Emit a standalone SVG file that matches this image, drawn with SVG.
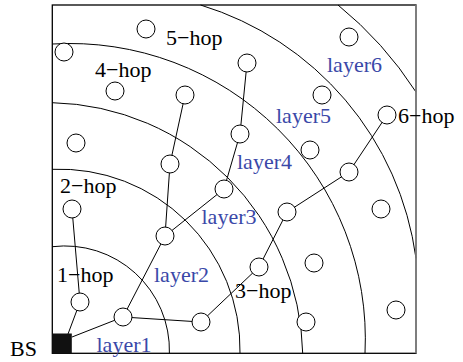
<svg xmlns="http://www.w3.org/2000/svg" width="463" height="362" viewBox="0 0 463 362">
<style>
.arc{fill:none;stroke:#000;stroke-width:1}
.ln{stroke:#000;stroke-width:1}
.nd{fill:#fff;stroke:#000;stroke-width:1}
.t{font-family:"Liberation Serif","Times New Roman",serif;font-size:22px;fill:#000}
.b{fill:#3a48a8}
</style>
<rect width="463" height="362" fill="#fff"/>
<g id="arcs">
<path class="arc" d="M52.3 246.7 A104.5 104.5 0 0 1 169.4 353.3"/>
<path class="arc" d="M52.3 169.3 A180.5 180.5 0 0 1 240 353.3"/>
<path class="arc" d="M52.3 102.7 A256.1 256.1 0 0 1 302.7 353.3"/>
<path class="arc" d="M52.3 44 A295.5 295.5 0 0 1 365 353.3"/>
<path class="arc" d="M200.6 5 A308.1 308.1 0 0 1 416 258.3"/>
<path class="arc" d="M338 5 A371.8 371.8 0 0 1 416 92"/>
</g>
<g id="connectors">
<line class="ln" x1="72" y1="337" x2="123" y2="317"/>
<line class="ln" x1="68" y1="334" x2="80" y2="302"/>
<line class="ln" x1="80" y1="302" x2="72" y2="209"/>
<line class="ln" x1="123" y1="317" x2="165" y2="236"/>
<line class="ln" x1="123" y1="317" x2="201" y2="322"/>
<line class="ln" x1="165" y1="236" x2="170" y2="164"/>
<line class="ln" x1="170" y1="164" x2="185" y2="95"/>
<line class="ln" x1="165" y1="236" x2="224" y2="189"/>
<line class="ln" x1="224" y1="189" x2="240" y2="134"/>
<line class="ln" x1="240" y1="134" x2="247" y2="63"/>
<line class="ln" x1="201" y1="322" x2="259" y2="267"/>
<line class="ln" x1="259" y1="267" x2="287" y2="212"/>
<line class="ln" x1="287" y1="212" x2="349" y2="172"/>
<line class="ln" x1="349" y1="172" x2="387" y2="115"/>
</g>
<g id="frame">
<rect x="52.3" y="5" width="363.7" height="348.3" fill="none" stroke="#000" stroke-width="1.3"/>
<line x1="416" y1="5" x2="416" y2="353.3" stroke="#888" stroke-width="1.6"/>
</g>
<g id="BS"><rect x="52.3" y="333.5" width="19.5" height="19.8" fill="#111"/><text class="t" x="10" y="356">BS</text></g>
<g id="n1"><circle class="nd" cx="146" cy="29" r="9"/></g>
<g id="n2"><circle class="nd" cx="64" cy="52" r="9"/></g>
<g id="n3"><circle class="nd" cx="349" cy="37" r="9"/></g>
<g id="n4"><circle class="nd" cx="115" cy="91" r="9"/></g>
<g id="n5"><circle class="nd" cx="185" cy="95" r="9"/></g>
<g id="n6"><circle class="nd" cx="247" cy="63" r="9"/></g>
<g id="n7"><circle class="nd" cx="322" cy="95" r="9"/></g>
<g id="n8"><circle class="nd" cx="387" cy="115" r="9"/></g>
<g id="n9"><circle class="nd" cx="76" cy="143" r="9"/></g>
<g id="n10"><circle class="nd" cx="240" cy="134" r="9"/></g>
<g id="n11"><circle class="nd" cx="310" cy="150" r="9"/></g>
<g id="n12"><circle class="nd" cx="170" cy="164" r="9"/></g>
<g id="n13"><circle class="nd" cx="349" cy="172" r="9"/></g>
<g id="n14"><circle class="nd" cx="224" cy="189" r="9"/></g>
<g id="n15"><circle class="nd" cx="72" cy="209" r="9"/></g>
<g id="n16"><circle class="nd" cx="287" cy="212" r="9"/></g>
<g id="n17"><circle class="nd" cx="381" cy="209" r="9"/></g>
<g id="n18"><circle class="nd" cx="165" cy="236" r="9"/></g>
<g id="n19"><circle class="nd" cx="259" cy="267" r="9"/></g>
<g id="n20"><circle class="nd" cx="314" cy="263" r="9"/></g>
<g id="n21"><circle class="nd" cx="80" cy="302" r="9"/></g>
<g id="n22"><circle class="nd" cx="123" cy="317" r="9"/></g>
<g id="n23"><circle class="nd" cx="201" cy="322" r="9"/></g>
<g id="n24"><circle class="nd" cx="306" cy="322" r="9"/></g>
<g id="n25"><circle class="nd" cx="396" cy="310" r="9"/></g>
<g id="labels">
<text class="t" x="166" y="45">5−hop</text>
<text class="t" x="95" y="77">4−hop</text>
<text class="t" x="398" y="123">6−hop</text>
<text class="t" x="60" y="193">2−hop</text>
<text class="t" x="57" y="282">1−hop</text>
<text class="t" x="235" y="298">3−hop</text>
<text class="t b" x="327" y="72">layer6</text>
<text class="t b" x="276" y="123">layer5</text>
<text class="t b" x="237" y="169">layer4</text>
<text class="t b" x="201.5" y="224">layer3</text>
<text class="t b" x="154" y="282">layer2</text>
<text class="t b" x="96.5" y="352">layer1</text>
</g>
</svg>
